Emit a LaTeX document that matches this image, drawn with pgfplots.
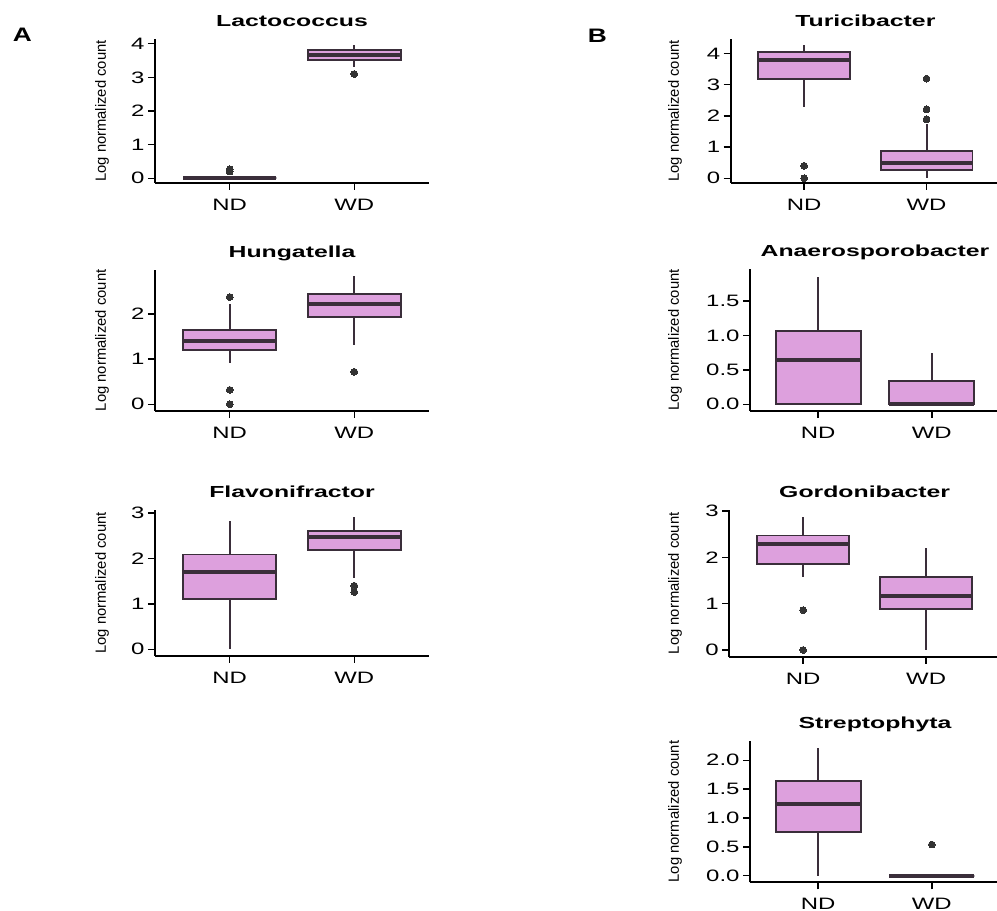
\documentclass[border=0pt]{standalone}
\usepackage{pgfplots}
\pgfplotsset{compat=1.18}
\usepgfplotslibrary{statistics}
\usepackage{fontspec}
\setmainfont{Liberation Sans}
\newfontfamily\tickfam[FakeStretch=1.45]{Liberation Sans}
\newfontfamily\titlefam[FakeStretch=1.55]{Liberation Sans Bold}
\newfontfamily\ylabfam{Liberation Sans}
\newfontfamily\panelfam[FakeStretch=1.35]{Liberation Sans Bold}
\newcommand\tickfont{\tickfam\fontsize{16.5}{19}\selectfont}
\newcommand\titlefont{\titlefam\fontsize{16}{19}\selectfont}
\newcommand\ylabfont{\ylabfam\fontsize{14.8}{17}\selectfont}
\definecolor{boxfill}{HTML}{DDA0DD}
\definecolor{boxline}{HTML}{3A2E3A}
\definecolor{ptcol}{HTML}{333333}
\pgfplotsset{
  panel/.style={
    scale only axis, anchor=south west,
    axis lines*=left,
    axis line style={line width=1.9pt, black, -},
    every tick/.style={line width=1.5pt, black},
    tick align=outside,
    major tick length=7pt,
    xmin=0.4, xmax=2.6,
    xtick={1,2}, xticklabels={ND,WD},
    /pgf/number format/assume math mode=true,
    ticklabel style={font=\tickfont},
    xticklabel style={inner sep=0pt, yshift=-9pt},
    yticklabel style={xshift=0pt},
    title style={font=\titlefont, at={(axis description cs:0.5,1)}, anchor=base, yshift=6pt},
    ylabel={Log normalized count},
    ylabel style={font=\ylabfont, anchor=center},
    clip=false,
  },
  bx/.style={
    line width=1.9pt, draw=boxline,
    boxplot/draw direction=y,
    boxplot/box extend=0.75,
    boxplot/whisker extend=0,
    boxplot/every box/.style={draw=boxline, fill=boxfill, line width=1.9pt},
    boxplot/every whisker/.style={draw=boxline, line width=1.9pt},
    boxplot/every median/.style={draw=boxline, line width=4pt},
    mark=*, mark size=3.4pt, mark options={fill=ptcol, draw=ptcol, line width=0pt},
  },
}
\begin{document}
\begin{tikzpicture}
\useasboundingbox (0pt,0pt) rectangle (997pt,911pt);
\node[font=\panelfam\fontsize{19.5}{22}\selectfont] at (22.5pt,876pt) {A};
\node[font=\panelfam\fontsize{19.5}{22}\selectfont] at (597.5pt,875.5pt) {B};

% A1 Lactococcus
\begin{axis}[panel, at={(155pt,728pt)}, width=274pt, height=144pt,
  ymin=-0.14, ymax=4.14, ytick={0,1,2,3,4}, title={Lactococcus},
  ylabel style={at={(axis description cs:-0.1934,0.5)}}]
\addplot[bx, boxplot prepared={draw position=1, median=0, upper quartile=0, lower quartile=0, upper whisker=0, lower whisker=0}]
  table[row sep=\\, y index=0] {y\\0.2\\0.27\\};
\addplot[bx, boxplot prepared={draw position=2, median=3.66, upper quartile=3.82, lower quartile=3.52, upper whisker=3.96, lower whisker=3.32}]
  table[row sep=\\, y index=0] {y\\3.10\\};
\end{axis}

% A2 Hungatella
\begin{axis}[panel, at={(155pt,500.3pt)}, width=274pt, height=140.7pt,
  ymin=-0.142, ymax=2.98, ytick={0,1,2}, title={Hungatella},
  ylabel style={at={(axis description cs:-0.1934,0.5)}}]
\addplot[bx, boxplot prepared={draw position=1, median=1.41, upper quartile=1.64, lower quartile=1.21, upper whisker=2.22, lower whisker=0.91}]
  table[row sep=\\, y index=0] {y\\2.38\\0.32\\0\\};
\addplot[bx, boxplot prepared={draw position=2, median=2.23, upper quartile=2.44, lower quartile=1.93, upper whisker=2.84, lower whisker=1.32}]
  table[row sep=\\, y index=0] {y\\0.72\\};
\end{axis}

% A3 Flavonifractor
\begin{axis}[panel, at={(155pt,255pt)}, width=274pt, height=146pt,
  ymin=-0.148, ymax=3.07, ytick={0,1,2,3}, title={Flavonifractor},
  ylabel style={at={(axis description cs:-0.1934,0.5)}}]
\addplot[bx, boxplot prepared={draw position=1, median=1.71, upper quartile=2.09, lower quartile=1.11, upper whisker=2.82, lower whisker=0}]
  coordinates {};
\addplot[bx, boxplot prepared={draw position=2, median=2.48, upper quartile=2.60, lower quartile=2.18, upper whisker=2.91, lower whisker=1.57}]
  table[row sep=\\, y index=0] {y\\1.40\\1.26\\};
\end{axis}

% B1 Turicibacter
\begin{axis}[panel, at={(730.7pt,728pt)}, width=269.3pt, height=144pt,
  ymin=-0.15, ymax=4.46, ytick={0,1,2,3,4}, title={Turicibacter},
  ylabel style={at={(axis description cs:-0.2068,0.5)}}]
\addplot[bx, boxplot prepared={draw position=1, median=3.79, upper quartile=4.03, lower quartile=3.18, upper whisker=4.27, lower whisker=2.29}]
  table[row sep=\\, y index=0] {y\\0.40\\0\\};
\addplot[bx, boxplot prepared={draw position=2, median=0.48, upper quartile=0.87, lower quartile=0.26, upper whisker=1.73, lower whisker=0.02}]
  table[row sep=\\, y index=0] {y\\3.19\\2.21\\1.89\\};
\end{axis}

% B2 Anaerosporobacter
\begin{axis}[panel, at={(750pt,500pt)}, width=250pt, height=142pt,
  ymin=-0.097, ymax=1.965, ytick={0,0.5,1,1.5}, title={Anaerosporobacter},
  yticklabel style={/pgf/number format/.cd, fixed, fixed zerofill, precision=1},
  ylabel style={at={(axis description cs:-0.3,0.5)}}]
\addplot[bx, boxplot prepared={draw position=1, median=0.65, upper quartile=1.07, lower quartile=0, upper whisker=1.85, lower whisker=0}]
  coordinates {};
\addplot[bx, boxplot prepared={draw position=2, median=0, upper quartile=0.34, lower quartile=0, upper whisker=0.74, lower whisker=0}]
  coordinates {};
\end{axis}

% B3 Gordonibacter
\begin{axis}[panel, at={(729.3pt,254.3pt)}, width=270.7pt, height=146.7pt,
  ymin=-0.145, ymax=3.02, ytick={0,1,2,3}, title={Gordonibacter},
  ylabel style={at={(axis description cs:-0.2006,0.5)}}]
\addplot[bx, boxplot prepared={draw position=1, median=2.28, upper quartile=2.47, lower quartile=1.86, upper whisker=2.86, lower whisker=1.58}]
  table[row sep=\\, y index=0] {y\\0.86\\0\\};
\addplot[bx, boxplot prepared={draw position=2, median=1.16, upper quartile=1.58, lower quartile=0.89, upper whisker=2.19, lower whisker=0}]
  coordinates {};
\end{axis}

% B4 Streptophyta
\begin{axis}[panel, at={(750pt,28.7pt)}, width=250pt, height=141.6pt,
  ymin=-0.114, ymax=2.34, ytick={0,0.5,1,1.5,2}, title={Streptophyta},
  yticklabel style={/pgf/number format/.cd, fixed, fixed zerofill, precision=1},
  ylabel style={at={(axis description cs:-0.3,0.5)}}]
\addplot[bx, boxplot prepared={draw position=1, median=1.25, upper quartile=1.64, lower quartile=0.75, upper whisker=2.22, lower whisker=0}]
  coordinates {};
\addplot[bx, boxplot prepared={draw position=2, median=0, upper quartile=0, lower quartile=0, upper whisker=0, lower whisker=0}]
  table[row sep=\\, y index=0] {y\\0.54\\};
\end{axis}
\end{tikzpicture}
\end{document}
